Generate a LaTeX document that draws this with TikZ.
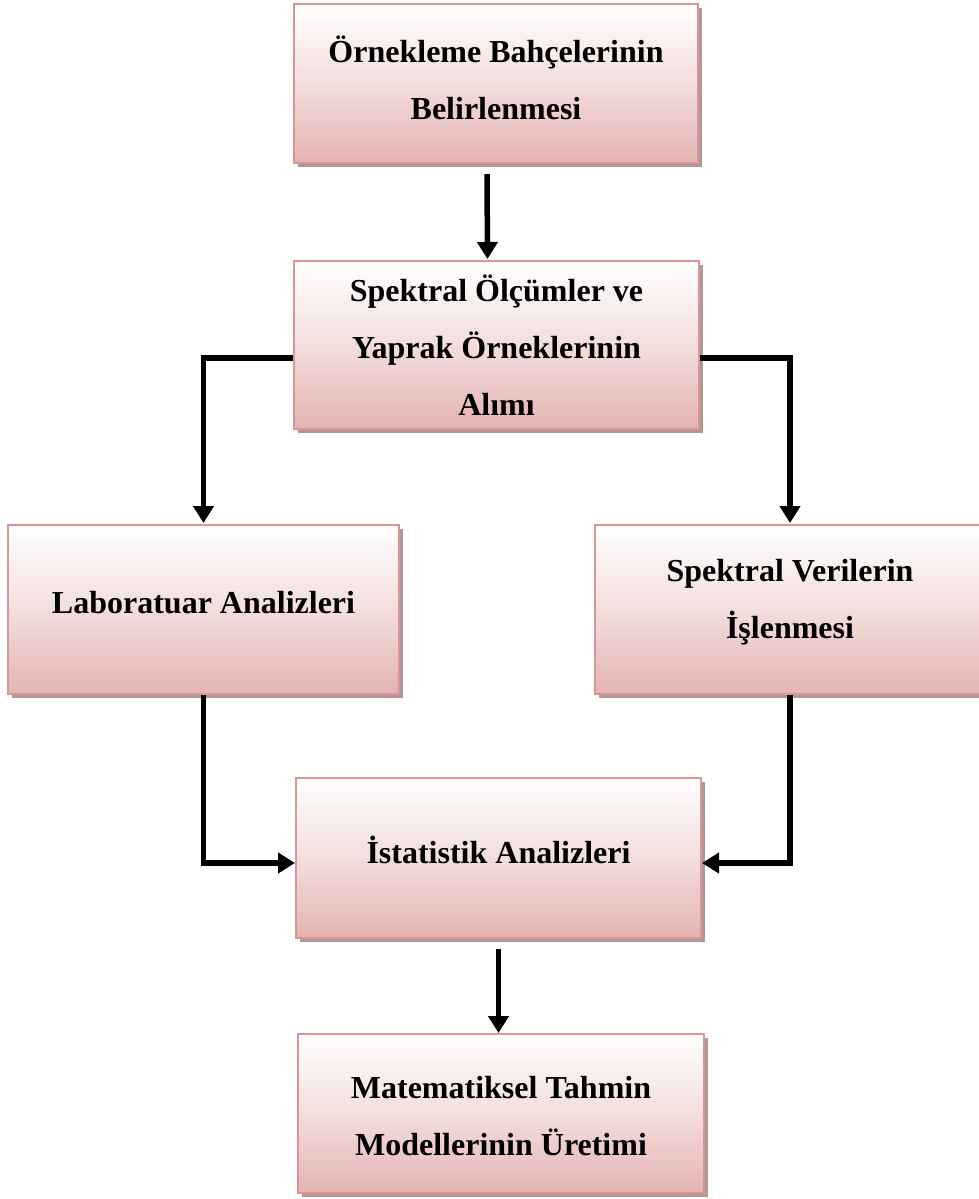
\documentclass[tikz,border=0pt]{standalone}
\usepackage{fontspec}
\setmainfont{Liberation Serif}
\usetikzlibrary{arrows.meta,shadows}
\definecolor{boxborder}{HTML}{D99694}
\definecolor{boxbottom}{HTML}{E4B3B2}
\definecolor{boxmid}{HTML}{F3DEDD}
\definecolor{boxshadow}{HTML}{B39696}
\tikzset{
  flowbox/.style={rectangle, draw=boxborder, line width=1pt,
    top color=white, bottom color=boxbottom, middle color=boxmid,
    drop shadow={shadow xshift=2pt, shadow yshift=-2pt, fill=boxshadow, opacity=1},
    inner sep=0pt},
  boxtext/.style={align=center, inner sep=0pt,
    font=\fontsize{16pt}{28.5pt}\selectfont\bfseries},
  flowarrow/.style={line width=2.75pt, -{Triangle[width=10pt,length=8.5pt]}}
}
\begin{document}
\begin{tikzpicture}[x=0.5pt,y=-0.5pt]
\useasboundingbox (0,0) rectangle (979,1199);
\node[flowbox, minimum width=202pt, minimum height=79.5pt] (b1) at (496,83.5) {};
\node[flowbox, minimum width=202.5pt, minimum height=84pt] (b2) at (496.5,345) {};
\node[flowbox, minimum width=195.5pt, minimum height=84.5pt] (b3) at (203.5,609.5) {};
\node[flowbox, minimum width=195pt, minimum height=84.5pt] (b4) at (790,609.5) {};
\node[flowbox, minimum width=202.5pt, minimum height=80pt] (b5) at (498.5,858) {};
\node[flowbox, minimum width=203pt, minimum height=79.5pt] (b6) at (501,1113.5) {};

\node[boxtext] (t1) at (496,78) {Örnekleme Bahçelerinin\\Belirlenmesi};
\node[boxtext] (t2) at (496.5,345) {Spektral Ölçümler ve\\Yaprak Örneklerinin\\Alımı};
\node[boxtext] (t3) at (203.5,602.5) {Laboratuar Analizleri};
\node[boxtext] (t4) at (790,602) {Spektral Verilerin\\İşlenmesi};
\node[boxtext] (t5) at (498.5,850) {İstatistik Analizleri};
\node[boxtext] (t6) at (501,1116) {Matematiksel Tahmin\\Modellerinin Üretimi};

\draw[flowarrow] ([xshift=-4.5pt,yshift=-5pt]b1.south) -- ([xshift=-4.5pt,yshift=0.5pt]b2.north);
\draw[flowarrow] ([yshift=-6.5pt]b2.west) -| ([yshift=0.5pt]b3.north);
\draw[flowarrow] ([yshift=-6.5pt]b2.east) -| ([yshift=0.5pt]b4.north);
\draw[flowarrow] (b3.south) |- ([yshift=-2.5pt]b5.west);
\draw[flowarrow] (b4.south) |- ([yshift=-2.5pt]b5.east);
\draw[flowarrow] ([yshift=-5pt]b5.south) -- (b5.south |- b6.north);
\end{tikzpicture}
\end{document}
